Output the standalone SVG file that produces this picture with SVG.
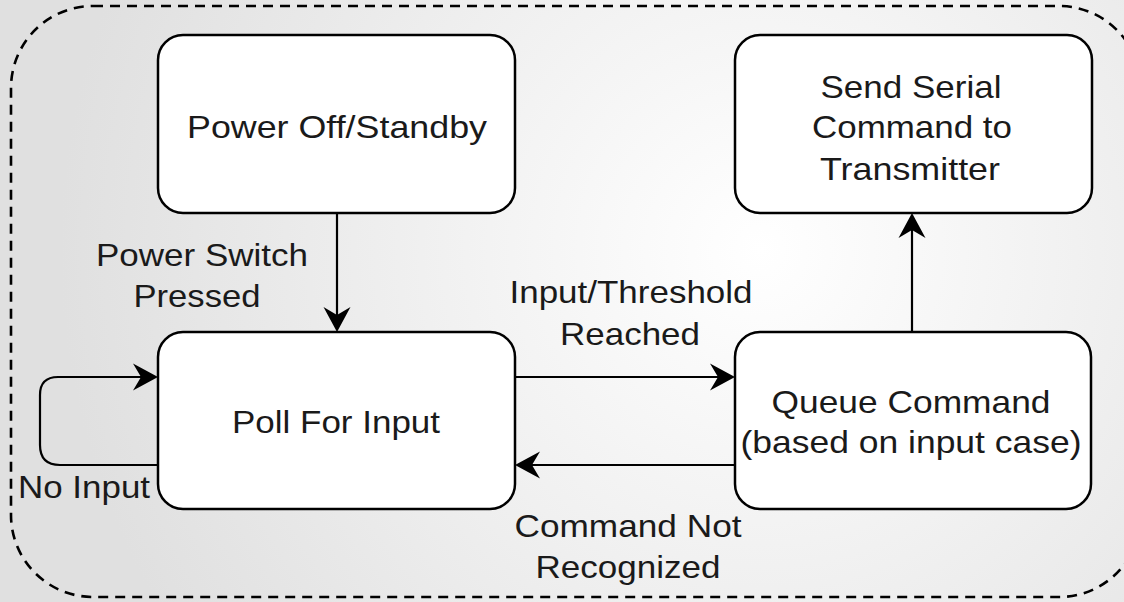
<svg xmlns="http://www.w3.org/2000/svg" width="1124" height="602" viewBox="0 0 1124 602">
<defs>
<radialGradient id="bg" gradientUnits="userSpaceOnUse" cx="760" cy="250" r="700">
<stop offset="0" stop-color="#ffffff"/>
<stop offset="1" stop-color="#e0e0e0"/>
</radialGradient>
<marker id="arr" markerUnits="userSpaceOnUse" markerWidth="30" markerHeight="30" viewBox="-25 -15 30 30" refX="-4" refY="0" orient="auto">
<path d="M0,0 L-25,-13.5 L-17,0 L-25,13.5 Z" fill="#000"/>
</marker>
</defs>
<style>
.node{fill:#ffffff;stroke:#000000;stroke-width:2.5}
.edge{fill:none;stroke:#000000;stroke-width:2.2}
.t{font-family:"Liberation Sans",Arial,Helvetica,sans-serif;font-size:32px;fill:#1a1a1a;text-anchor:middle}
.ts{text-anchor:start}
</style>
<rect x="0" y="0" width="1124" height="602" fill="url(#bg)"/>
<rect id="container" x="11" y="6" width="1130" height="591" rx="82" ry="82" fill="none" stroke="#000" stroke-width="2.6" stroke-dasharray="10 7"/>

<g id="connectors">
<path class="edge" d="M337,213 L337,328" marker-end="url(#arr)"/>
<path class="edge" d="M515,377 L731,377" marker-end="url(#arr)"/>
<path class="edge" d="M735,465 L519,465" marker-end="url(#arr)"/>
<path class="edge" d="M912,332 L912,217" marker-end="url(#arr)"/>
<path class="edge" d="M158,465 L60,465 Q40,465 40,445 L40,395 Q40,377 58,377 L154,377" marker-end="url(#arr)"/>
<g id="edge-labels">
<text class="t" x="202" y="266" textLength="212" lengthAdjust="spacingAndGlyphs">Power Switch</text>
<text class="t" x="197" y="307" textLength="127" lengthAdjust="spacingAndGlyphs">Pressed</text>
<text class="t" x="631" y="303" textLength="243" lengthAdjust="spacingAndGlyphs">Input/Threshold</text>
<text class="t" x="630" y="345" textLength="140" lengthAdjust="spacingAndGlyphs">Reached</text>
<text class="t" x="628" y="537" textLength="227" lengthAdjust="spacingAndGlyphs">Command Not</text>
<text class="t" x="628" y="578" textLength="185" lengthAdjust="spacingAndGlyphs">Recognized</text>
<text class="t ts" x="18" y="498" textLength="132" lengthAdjust="spacingAndGlyphs">No Input</text>
</g>
</g>

<g id="power-off">
<rect class="node" x="158" y="35" width="357" height="178" rx="25" ry="25"/>
<text class="t" x="337" y="138" textLength="300" lengthAdjust="spacingAndGlyphs">Power Off/Standby</text>
</g>

<g id="poll">
<rect class="node" x="158" y="332" width="357" height="177" rx="25" ry="25"/>
<text class="t" x="336" y="433" textLength="208" lengthAdjust="spacingAndGlyphs">Poll For Input</text>
</g>

<g id="queue">
<rect class="node" x="735" y="332" width="356" height="177" rx="25" ry="25"/>
<text class="t" x="911" y="413" textLength="279" lengthAdjust="spacingAndGlyphs">Queue Command</text>
<text class="t" x="911" y="453" textLength="341" lengthAdjust="spacingAndGlyphs">(based on input case)</text>
</g>

<g id="send">
<rect class="node" x="735" y="35" width="357" height="178" rx="25" ry="25"/>
<text class="t" x="911" y="98" textLength="181" lengthAdjust="spacingAndGlyphs">Send Serial</text>
<text class="t" x="912" y="138" textLength="200" lengthAdjust="spacingAndGlyphs">Command to</text>
<text class="t" x="910" y="180" textLength="180" lengthAdjust="spacingAndGlyphs">Transmitter</text>
</g>
</svg>
